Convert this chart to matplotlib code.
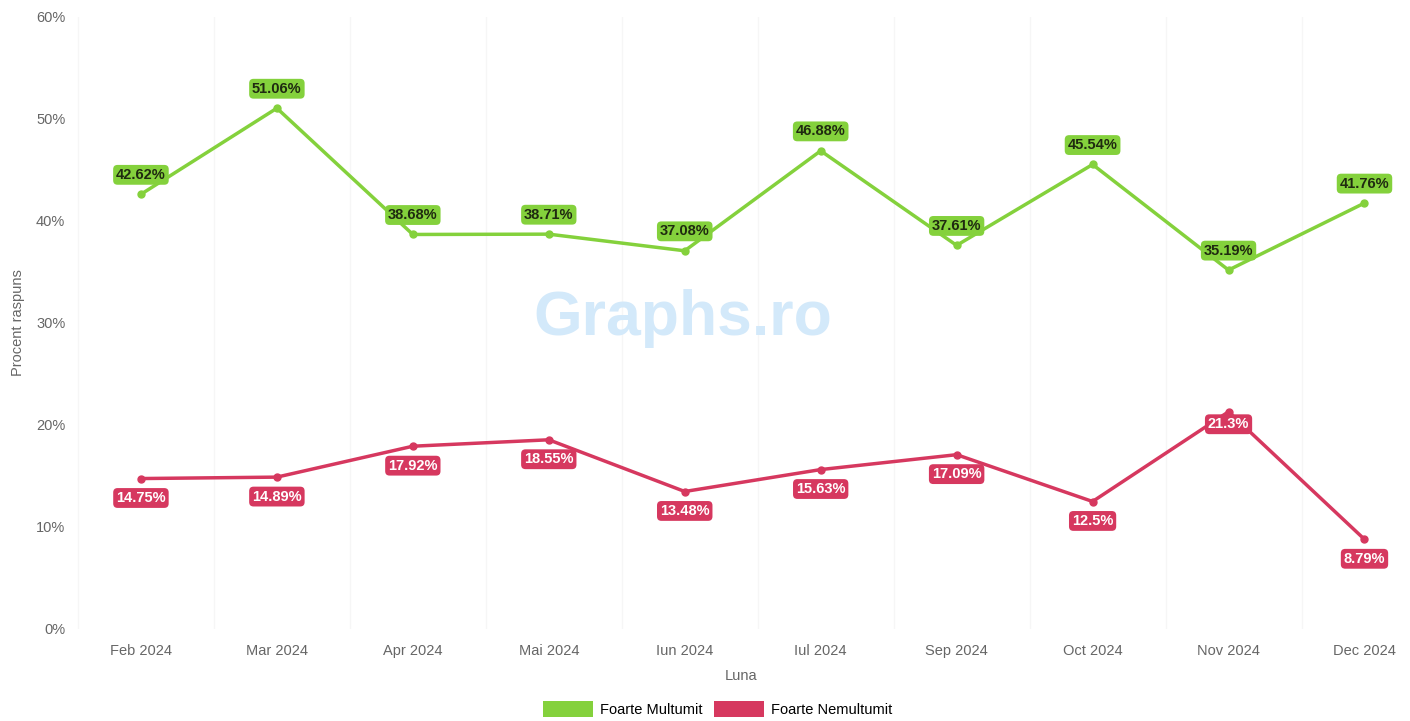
import matplotlib.pyplot as plt
from matplotlib.patches import Patch

months = ["Feb 2024", "Mar 2024", "Apr 2024", "Mai 2024", "Iun 2024",
          "Iul 2024", "Sep 2024", "Oct 2024", "Nov 2024", "Dec 2024"]
multumit = [42.62, 51.06, 38.68, 38.71, 37.08, 46.88, 37.61, 45.54, 35.19, 41.76]
nemultumit = [14.75, 14.89, 17.92, 18.55, 13.48, 15.63, 17.09, 12.5, 21.3, 8.79]
y_ticks = [0, 10, 20, 30, 40, 50, 60]

green = "#84d13c"
red = "#d6385f"

plt.rcParams["font.family"] = ["Liberation Sans", "DejaVu Sans"]

fig = plt.figure(figsize=(14.1, 7.21), dpi=100)
ax = fig.add_axes([75 / 1410, 1 - 629 / 721, 1333 / 1410, 612 / 721])

x = list(range(len(months)))
ax.plot(x, multumit, color=green, lw=2.5, marker="o", ms=5, zorder=3)
ax.plot(x, nemultumit, color=red, lw=2.5, marker="o", ms=5, zorder=3)

for i, v in enumerate(multumit):
    ax.annotate(f"{v:g}%", (i, v), xytext=(0, 14), textcoords="offset points",
                ha="center", va="center", fontsize=10.5, fontweight="bold",
                color="#1f2a10", zorder=4,
                bbox=dict(boxstyle="round,pad=0.2,rounding_size=0.3",
                          fc=green, ec="none"))

for i, v in enumerate(nemultumit):
    dy = -9 if i == 8 else -14
    ax.annotate(f"{v:g}%", (i, v), xytext=(0, dy), textcoords="offset points",
                ha="center", va="center", fontsize=10.5, fontweight="bold",
                color="white", zorder=4,
                bbox=dict(boxstyle="round,pad=0.2,rounding_size=0.3",
                          fc=red, ec="none"))

ax.set_xlim(-0.485, 9.32)
ax.set_ylim(0, 60)
ax.set_yticks(y_ticks)
ax.set_yticklabels([f"{t}%" for t in y_ticks])
ax.set_xticks(x)
ax.set_xticklabels(months)
ax.set_xticks([i - 0.46 for i in range(len(months))], minor=True)
ax.grid(False)
ax.xaxis.grid(True, which="minor", color="#f6f6f6", lw=1)
ax.tick_params(axis="both", which="both", length=0, colors="#666666", labelsize=10.5)
ax.tick_params(axis="x", pad=11)
ax.tick_params(axis="y", pad=7)
for s in ax.spines.values():
    s.set_visible(False)

ax.set_xlabel("Luna", fontsize=10.5, color="#666666", labelpad=8)
ax.set_ylabel("Procent raspuns", fontsize=10.5, color="#666666", labelpad=8)

fig.text(683 / 1410, 1 - 318 / 721, "Graphs.ro", ha="center", va="center",
         fontsize=45, fontweight="bold", color="#d3e9fa", zorder=1)

handles = [Patch(fc=green, ec="none", label="Foarte Multumit"),
           Patch(fc=red, ec="none", label="Foarte Nemultumit")]
fig.legend(handles=handles, loc="center", bbox_to_anchor=(718 / 1410, 1 - 709 / 721),
           ncol=2, frameon=False, fontsize=10.5, handlelength=3.4, handleheight=1.3,
           columnspacing=0.8, handletextpad=0.5)

fig.savefig("out.png", dpi=100)
